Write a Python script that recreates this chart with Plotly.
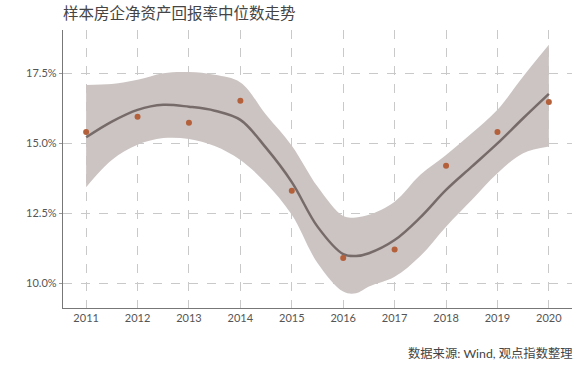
import plotly.graph_objects as go

years = [2011, 2012, 2013, 2014, 2015, 2016, 2017, 2018, 2019, 2020]
roe_median = [15.41, 15.95, 15.74, 16.52, 13.31, 10.91, 11.21, 14.20, 15.41, 16.48]

smooth_x = [2011, 2011.5, 2012, 2012.5, 2013, 2013.5, 2014, 2014.5, 2015, 2015.5,
            2016, 2016.25, 2016.5, 2017, 2017.5, 2018, 2018.5, 2019, 2019.5, 2020]
smooth_y = [15.22, 15.78, 16.20, 16.38, 16.31, 16.17, 15.84, 14.84, 13.62, 12.03,
            11.05, 10.98, 11.08, 11.55, 12.36, 13.34, 14.17, 15.00, 15.90, 16.77]
band_upper = [17.09, 17.12, 17.27, 17.51, 17.55, 17.45, 17.18, 16.02, 14.92, 13.46,
              12.41, 12.36, 12.45, 12.92, 13.88, 14.59, 15.36, 16.20, 17.39, 18.52]
band_lower = [13.44, 14.41, 14.95, 15.19, 15.16, 14.91, 14.41, 13.58, 12.45, 10.73,
              9.71, 9.65, 9.89, 10.24, 10.98, 12.03, 12.98, 13.94, 14.65, 14.89]

y_ticks = [10.0, 12.5, 15.0, 17.5]
y_tick_text = ["10.0%", "12.5%", "15.0%", "17.5%"]

title_text = "样本房企净资产回报率中位数走势"
source_text = "数据来源: Wind, 观点指数整理"

FONT = "Lato, 'Noto Sans CJK SC', sans-serif"

fig = go.Figure()
fig.add_trace(go.Scatter(x=smooth_x, y=band_lower, mode="lines",
                         line=dict(width=0, shape="spline", smoothing=1.0),
                         hoverinfo="skip", showlegend=False))
fig.add_trace(go.Scatter(x=smooth_x, y=band_upper, mode="lines",
                         line=dict(width=0, shape="spline", smoothing=1.0),
                         fill="tonexty", fillcolor="#cbc4c2",
                         hoverinfo="skip", showlegend=False))
fig.add_trace(go.Scatter(x=smooth_x, y=smooth_y, mode="lines",
                         line=dict(color="#776b69", width=2.5, shape="spline", smoothing=1.0),
                         showlegend=False))
fig.add_trace(go.Scatter(x=years, y=roe_median, mode="markers",
                         marker=dict(color="#b4603a", size=6),
                         showlegend=False))

fig.update_layout(
    width=580, height=367,
    margin=dict(l=63, r=8, t=30, b=59),
    paper_bgcolor="white", plot_bgcolor="white",
    font=dict(family=FONT, size=11, color="#555555"),
    showlegend=False,
    annotations=[
        dict(text=title_text, xref="paper", yref="paper", x=-0.003, y=1.0,
             yshift=28, xanchor="left", yanchor="top", showarrow=False,
             font=dict(family=FONT, size=15.5, color="#444444")),
        dict(text=source_text, xref="paper", yref="paper", x=1.0, y=0,
             xshift=3, yshift=-36, xanchor="right", yanchor="top", showarrow=False,
             font=dict(family=FONT, size=12.3, color="#444444")),
    ],
)
fig.update_xaxes(range=[2010.55, 2020.45], tickmode="array", tickvals=years,
                 ticktext=[str(y) for y in years],
                 showgrid=True, gridcolor="#c9c9c9", griddash="dash", gridwidth=1,
                 showline=True, linecolor="#777777", linewidth=1.3,
                 ticks="", zeroline=False, tickfont=dict(size=11, color="#555555"))
fig.update_yaxes(range=[9.125, 19.05], tickmode="array", tickvals=y_ticks,
                 ticktext=y_tick_text,
                 showgrid=True, gridcolor="#c9c9c9", griddash="dash", gridwidth=1,
                 showline=True, linecolor="#777777", linewidth=1.3,
                 ticks="outside", ticklen=3, tickcolor="#999999",
                 zeroline=False, tickfont=dict(size=11, color="#555555"))

fig.write_html("out.html", config={"displayModeBar": False},
               post_script="document.body.style.margin='0px';document.body.style.overflow='hidden';")
